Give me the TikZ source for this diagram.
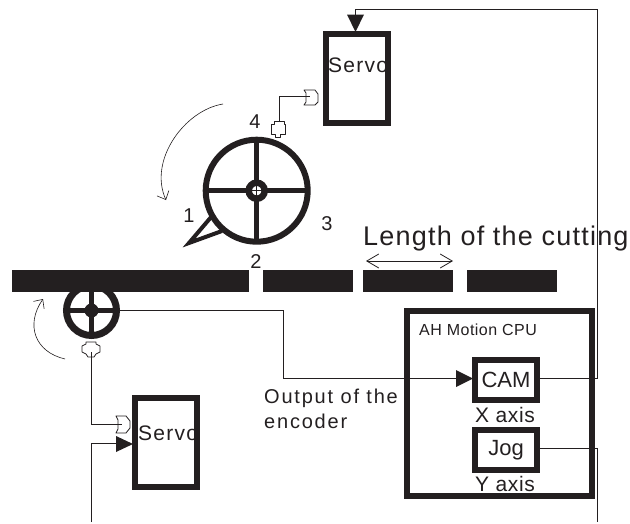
\documentclass[tikz,border=0pt]{standalone}
\usepackage{fontspec}
\setmainfont{Liberation Sans}
\usetikzlibrary{arrows,arrows.meta,positioning,calc}
\definecolor{inkdark}{HTML}{231F20}
\tikzset{
    frame/.style={draw=inkdark, line width=6pt, inner sep=0pt, anchor=north west},
    tape/.style={fill=inkdark, draw=none, inner sep=0pt, minimum height=22pt, anchor=north west},
    wire/.style={draw=inkdark, line width=1pt},
    thin curve/.style={draw=inkdark, line width=0.6pt, -{Straight Barb[length=7pt,width=13pt]}},
    solid head/.style={fill=inkdark, draw=none},
    txt/.style={text=inkdark, inner sep=0pt},
    plug/.style={draw=inkdark, fill=white, line width=0.8pt, line join=round}
}
\begin{document}
\begin{tikzpicture}[x=1pt, y=-1pt, >=stealth]
    \useasboundingbox (0,0) rectangle (630,523);
    % Servo labels first, the frames run over them
    \node[txt, anchor=base west, font=\fontsize{21}{21}\selectfont] (servotoptext) at (328,72) {\addfontfeature{LetterSpace=6}Servo};
    \node[txt, anchor=base west, font=\fontsize{21}{21}\selectfont] (servolowtext) at (138,440) {\addfontfeature{LetterSpace=6}Servo};
    \fill[white] (388,35) rectangle (400,120);
    \fill[white] (198,400) rectangle (210,485);
    \node[frame, minimum width=61.5pt, minimum height=89pt] (servotop) at (323,31) {};
    \node[frame, minimum width=62pt, minimum height=89pt] (servolow) at (132,395) {};
    % Big wheel
    \coordinate (bighub) at (256.7,190.7);
    \draw[inkdark, line width=6pt] (bighub) circle (51pt);
    \draw[inkdark, line width=5.5pt] ($(bighub)+(-50,0)$) -- ($(bighub)+(50,0)$);
    \draw[inkdark, line width=5.5pt] ($(bighub)+(0,-50)$) -- ($(bighub)+(0,50)$);
    \draw[inkdark, fill=white, line width=6.5pt] (bighub) circle (8pt);
    \draw[inkdark, line width=1pt] ($(bighub)+(-5,0)$) -- ($(bighub)+(5,0)$);
    \draw[inkdark, line width=1pt] ($(bighub)+(0,-5)$) -- ($(bighub)+(0,5)$);
    \draw[inkdark, line width=4pt, line join=miter, miter limit=10] (212,216) -- (189,243) -- (222,231);
    % Small wheel, the tape covers its top
    \coordinate (smallhub) at (91.5,310.5);
    \draw[inkdark, line width=7pt] (smallhub) circle (25pt);
    \draw[inkdark, line width=5.5pt] ($(smallhub)+(-25,0)$) -- ($(smallhub)+(25,0)$);
    \draw[inkdark, line width=5.5pt] ($(smallhub)+(0,-25)$) -- ($(smallhub)+(0,25)$);
    \fill[inkdark] (smallhub) circle (7pt);
    % Tape pieces
    \node[tape, minimum width=237pt] (tapea) at (12,270) {};
    \node[tape, minimum width=90pt] (tapeb) at (263,270) {};
    \node[tape, minimum width=90pt] (tapec) at (363,270) {};
    \node[tape, minimum width=90pt] (taped) at (467,270) {};
    % CPU
    \node[frame, minimum width=185pt, minimum height=184.5pt] (cpu) at (404,308) {};
    \node[frame, minimum width=62pt, minimum height=40pt, font=\fontsize{22}{22}\selectfont, text=inkdark] (cam) at (472,357) {CAM};
    \node[frame, minimum width=62pt, minimum height=40pt, font=\fontsize{22}{22}\selectfont, text=inkdark] (jog) at (472,427) {Jog};
    % Plugs
    \draw[plug] (304,90) -- (315,90) -- (318,94) -- (318,102) -- (315,105) -- (304,105) -- (306,102) -- (306,93) -- cycle;
    \draw[plug] (116,416) -- (126,416) -- (130,421) -- (130,428) -- (126,433) -- (116,433) -- (118,429) -- (118,420) -- cycle;
    \draw[plug] (274,121) -- (284,121) -- (284,124) -- (285,124) -- (285,134) -- (280,134) -- (280,137) -- (275,137) -- (275,134) -- (271,134) -- (271,124) -- (274,124) -- cycle;
    \draw[plug] (86,342) -- (96,342) -- (96,344) -- (100,346) -- (100,352) -- (96,354) -- (94,357) -- (88,357) -- (86,354) -- (82,352) -- (82,346) -- (86,344) -- cycle;
    % Wires
    \coordinate (topin) at (355,31);
    \coordinate (jogdrop) at (597.5,522);
    \coordinate (lowrise) at (91,522);
    \coordinate (plugtop) at (310,96);
    \coordinate (plugwheel) at (279,122);
    \coordinate (pluglow) at (122,424);
    \coordinate (plugsmall) at (91,352);
    \draw[wire] ($(cam.east)+(0,-1.5)$) -| (597.5,9) -| (topin);
    \draw[wire] ($(jog.east)+(0,-1.5)$) -| (jogdrop);
    \draw[wire] (smallhub) -- (283,310.5) -- (283,378.5) -- (456,378.5);
    \draw[wire] (lowrise) |- (118,443);
    \draw[wire] (plugwheel) |- (plugtop);
    \draw[wire] (plugsmall) |- (pluglow);
    \fill[solid head] (456,370) -- (473,378.5) -- (456,387) -- cycle;
    \fill[solid head] (116,436) -- (133,444) -- (116,452) -- cycle;
    \fill[solid head] (347,14.5) -- (364,14.5) -- (355.5,32) -- cycle;
    % Rotation arrows
    \draw[thin curve] (223,104) .. controls (185,110) and (148,160) .. (166,200);
    \draw[thin curve] (65,359) .. controls (35,352) and (25,325) .. (43,299);
    \draw[inkdark, line width=0.8pt, {Straight Barb[length=12pt,width=14pt]}-{Straight Barb[length=12pt,width=14pt]}] (366,261) -- (453,261);
    % Labels
    \node[txt, anchor=base, font=\fontsize{20}{20}\selectfont] (lblone) at (189,222) {1};
    \node[txt, anchor=base, font=\fontsize{20}{20}\selectfont] (lbltwo) at (256,268) {2};
    \node[txt, anchor=base, font=\fontsize{20}{20}\selectfont] (lblthree) at (327,230) {3};
    \node[txt, anchor=base, font=\fontsize{20}{20}\selectfont] (lblfour) at (255,128) {4};
    \node[txt, anchor=base west, font=\fontsize{27}{27}\selectfont] (lencut) at (363,245) {\addfontfeature{LetterSpace=4.5}Length of the cutting};
    \node[txt, anchor=base west, font=\fontsize{20}{20}\selectfont] (outa) at (264,403) {\addfontfeature{LetterSpace=9}Output of the};
    \node[txt, anchor=base west, font=\fontsize{20}{20}\selectfont] (outb) at (264,428) {\addfontfeature{LetterSpace=9}encoder};
    \node[txt, anchor=base west, font=\fontsize{16}{16}\selectfont] (cpulbl) at (419,335) {\addfontfeature{LetterSpace=3}AH Motion CPU};
    \node[txt, anchor=base, font=\fontsize{21}{21}\selectfont] (xaxis) at (505,422) {\addfontfeature{LetterSpace=3}X axis};
    \node[txt, anchor=base, font=\fontsize{21}{21}\selectfont] (yaxis) at (505,491) {\addfontfeature{LetterSpace=3}Y axis};
\end{tikzpicture}
\end{document}
